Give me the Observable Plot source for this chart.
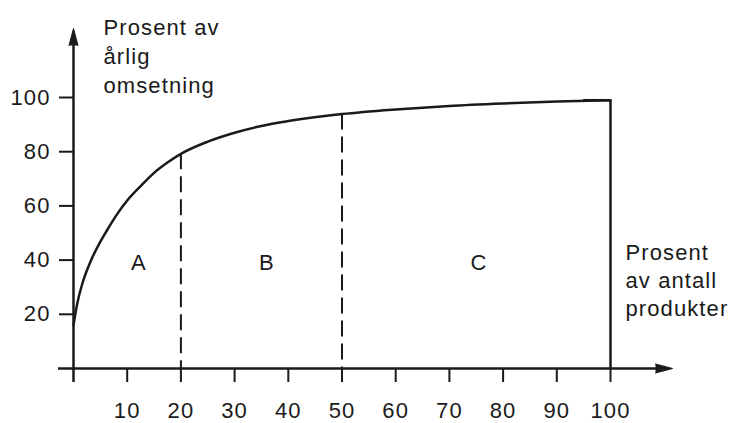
<!DOCTYPE html>
<html><head><meta charset="utf-8">
<script src="https://cdn.jsdelivr.net/npm/d3@7"></script>
<script src="https://cdn.jsdelivr.net/npm/@observablehq/plot@0.6"></script>
<style>html,body{margin:0;padding:0;background:#fff;}</style>
</head><body><div id="chart"></div>
<script>
// ---- data ----
const curveX = [0, 0.7, 1.6, 3.2, 5, 6.3, 8, 10, 12.5, 15, 17.5, 20, 25, 30, 35, 40, 50, 60, 70, 80, 90, 100];
const curveY = [16, 24, 31, 39.6, 46.8, 51.2, 56.6, 62, 67.3, 72.2, 76, 79.2, 83.7, 87, 89.5, 91.3, 93.9, 95.6, 96.9, 97.8, 98.5, 99];
const xTicks = [10, 20, 30, 40, 50, 60, 70, 80, 90, 100];
const yTicks = [20, 40, 60, 80, 100];
const boundaryX = [20, 50];
const boundaryY = [79.2, 93.9];
const endX = [100];
const endY = [99];
const classLabels = ["A", "B", "C"];
const classLabelX = [12.2, 36, 75.5];
const classLabelY = [39, 39, 39];
const yTitle = ["Prosent av", "årlig", "omsetning"];
const xTitle = ["Prosent", "av antall", "produkter"];

// ---- layout ----
const W = 731, H = 423;
const mL = 73, mR = 121, mT = 97, mB = 55;
const pxX = (W - mL - mR) / 100, pxY = (H - mT - mB) / 100;
const ink = "#1a1a1a";
const font = "'Liberation Sans', Arial, Helvetica, sans-serif";

const xAxisTip = (672 - mL) / pxX, yAxisTip = (H - mB - 28) / pxY;
const headLen = 17, headHalf = 4.5;
const xHead = [
  {x: xAxisTip - headLen / pxX, y: headHalf / pxY},
  {x: xAxisTip, y: 0},
  {x: xAxisTip - headLen / pxX, y: -headHalf / pxY}
];
const yHead = [
  {x: -headHalf / pxX, y: yAxisTip - headLen / pxY},
  {x: 0, y: yAxisTip},
  {x: headHalf / pxX, y: yAxisTip - headLen / pxY}
];
const curve = curveX.map((x, i) => ({x, y: curveY[i]}));
const bounds = boundaryX.map((x, i) => ({x, y: boundaryY[i]}));
const labels = classLabels.map((t, i) => ({t, x: classLabelX[i], y: classLabelY[i]}));

const chart = Plot.plot({
  width: W, height: H,
  marginLeft: mL, marginRight: mR, marginTop: mT, marginBottom: mB,
  style: {fontFamily: font, fontSize: "22px", color: ink, background: "#fff", letterSpacing: "1.1px"},
  x: {domain: [0, 100]},
  y: {domain: [0, 100]},
  marks: [
    Plot.axisX(xTicks, {tickSize: 14, tickPadding: 20, strokeWidth: 2, stroke: ink, fill: ink, fontSize: 22, label: null}),
    Plot.axisY(yTicks, {tickSize: 14, tickPadding: 9, strokeWidth: 2, stroke: ink, fill: ink, fontSize: 22, label: null}),
    Plot.ruleY([0], {x1: -15 / pxX, x2: xAxisTip - headLen / pxX + 1, stroke: ink, strokeWidth: 2.5}),
    Plot.ruleX([0], {y1: -14 / pxY, y2: yAxisTip - headLen / pxY + 1, stroke: ink, strokeWidth: 2.5}),
    Plot.line(xHead, {x: "x", y: "y", fill: ink, stroke: ink, strokeWidth: 1}),
    Plot.line(yHead, {x: "x", y: "y", fill: ink, stroke: ink, strokeWidth: 1}),
    Plot.ruleX(bounds, {x: "x", y1: "y", y2: 0, stroke: ink, strokeWidth: 2, strokeDasharray: "16,7"}),
    Plot.ruleX(endX, {x: d => d, y1: 0, y2: (d, i) => endY[i], stroke: ink, strokeWidth: 2.5}),
    Plot.ruleY(endY, {y: d => d, x1: 95, x2: endX[0], stroke: ink, strokeWidth: 2.5}),
    Plot.line(curve, {x: "x", y: "y", curve: "monotone-x", stroke: ink, strokeWidth: 2.5}),
    Plot.text(labels, {x: "x", y: "y", text: "t", fontSize: 22, fill: ink}),
    Plot.text([yTitle.join("\n")], {frameAnchor: "top-left", dx: 30, dy: -83, textAnchor: "start", lineAnchor: "top", lineHeight: 1.32, fontSize: 22, fill: ink}),
    Plot.text([xTitle.join("\n")], {frameAnchor: "top-right", dx: 15, dy: 142, textAnchor: "start", lineAnchor: "top", lineHeight: 1.28, fontSize: 22, fill: ink})
  ]
});
document.getElementById("chart").appendChild(chart);
</script>
</body></html>
